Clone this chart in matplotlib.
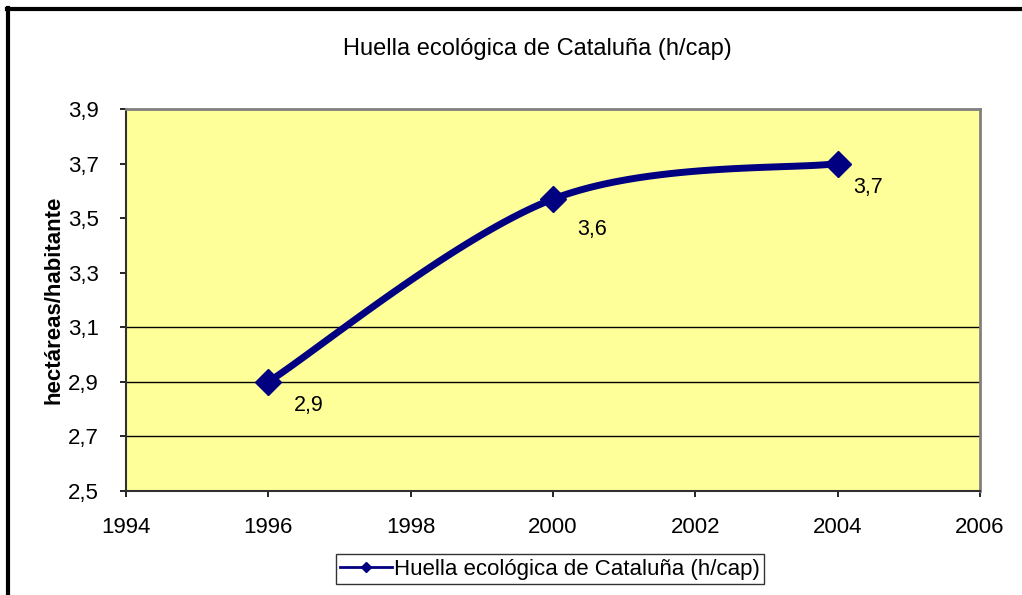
import numpy as np
import matplotlib.pyplot as plt
from matplotlib.lines import Line2D

plt.rcParams['font.family'] = ['Liberation Sans', 'DejaVu Sans']

# datos
anios = [1996, 2000, 2004]
huella = [2.90, 3.57, 3.70]
etiquetas = ['2,9', '3,6', '3,7']
serie = 'Huella ecológica de Cataluña (h/cap)'
x_ticks = [1994, 1996, 1998, 2000, 2002, 2004, 2006]
y_ticks = [2.5, 2.7, 2.9, 3.1, 3.3, 3.5, 3.7, 3.9]
lineas_guia = [2.7, 2.9, 3.1]

azul = '#000080'
amarillo = '#FFFF99'


def suavizar(xs, ys, n=60):
    # curva tipo Excel: bezier con puntos de control a 1/6
    p = np.column_stack([xs, ys]).astype(float)
    ext = np.vstack([p[0], p, p[-1]])
    out = []
    t = np.linspace(0, 1, n)[:, None]
    for i in range(len(p) - 1):
        p0, p1, p2, p3 = ext[i], ext[i + 1], ext[i + 2], ext[i + 3]
        c1 = p1 + (p2 - p0) / 6
        c2 = p2 - (p3 - p1) / 6
        seg = ((1 - t) ** 3) * p1 + 3 * ((1 - t) ** 2) * t * c1 + 3 * (1 - t) * t ** 2 * c2 + t ** 3 * p2
        out.append(seg)
    c = np.vstack(out)
    return c[:, 0], c[:, 1]


fig = plt.figure(figsize=(10.22, 5.95), dpi=100)
ax = fig.add_axes([126 / 1022, 1 - 491 / 595, (980 - 126) / 1022, (491 - 109) / 595])
ax.set_facecolor(amarillo)

for g in lineas_guia:
    ax.axhline(g, color='black', lw=1, zorder=1)

sx, sy = suavizar(anios, huella)
ax.plot(sx, sy, color=azul, lw=5, solid_capstyle='round', zorder=3)
ax.plot(anios, huella, 'D', color=azul, markersize=13, zorder=4)

# desplazamiento de las etiquetas (en puntos)
desp = [(29, -17), (28, -22), (22, -17)]
for xa, ya, et, d in zip(anios, huella, etiquetas, desp):
    ax.annotate(et, (xa, ya), xytext=d, textcoords='offset points',
                ha='center', va='center', fontsize=15.5)

ax.set_xlim(1994, 2006)
ax.set_ylim(2.5, 3.9)
ax.set_xticks(x_ticks)
ax.set_yticks(y_ticks)
ax.set_yticklabels([f'{v:.1f}'.replace('.', ',') for v in y_ticks])
ax.tick_params(labelsize=16, length=4, width=1.2, direction='out')
ax.tick_params(axis='x', pad=14.5)
ax.tick_params(axis='y', pad=15.5)

for s in ['left', 'bottom']:
    ax.spines[s].set_color('#303030')
    ax.spines[s].set_linewidth(1.5)
for s in ['top', 'right']:
    ax.spines[s].set_color('#808080')
    ax.spines[s].set_linewidth(2)

ax.set_ylabel('hectáreas/habitante', fontsize=16, fontweight='bold', va='center')
ax.yaxis.set_label_coords(-0.084, 0.5)
fig.text(537 / 1022, 1 - 49 / 595, serie, ha='center', va='center', fontsize=17)

handle = Line2D([], [], color=azul, lw=2, marker='D', markersize=5)
leg = fig.legend([handle], [serie], loc='center', bbox_to_anchor=(550 / 1022, 1 - 569 / 595),
                 fontsize=16, frameon=True, fancybox=False, edgecolor='black',
                 handlelength=2.3, handletextpad=0.1, borderpad=0.2, borderaxespad=0)
leg.get_frame().set_linewidth(1)

# marco exterior
fig.add_artist(Line2D([8 / 1022, 8 / 1022], [0, 1 - 8 / 595], color='black', lw=3))
fig.add_artist(Line2D([6.5 / 1022, 1], [1 - 9 / 595, 1 - 9 / 595], color='black', lw=3))

fig.savefig('out.png', dpi=100)
